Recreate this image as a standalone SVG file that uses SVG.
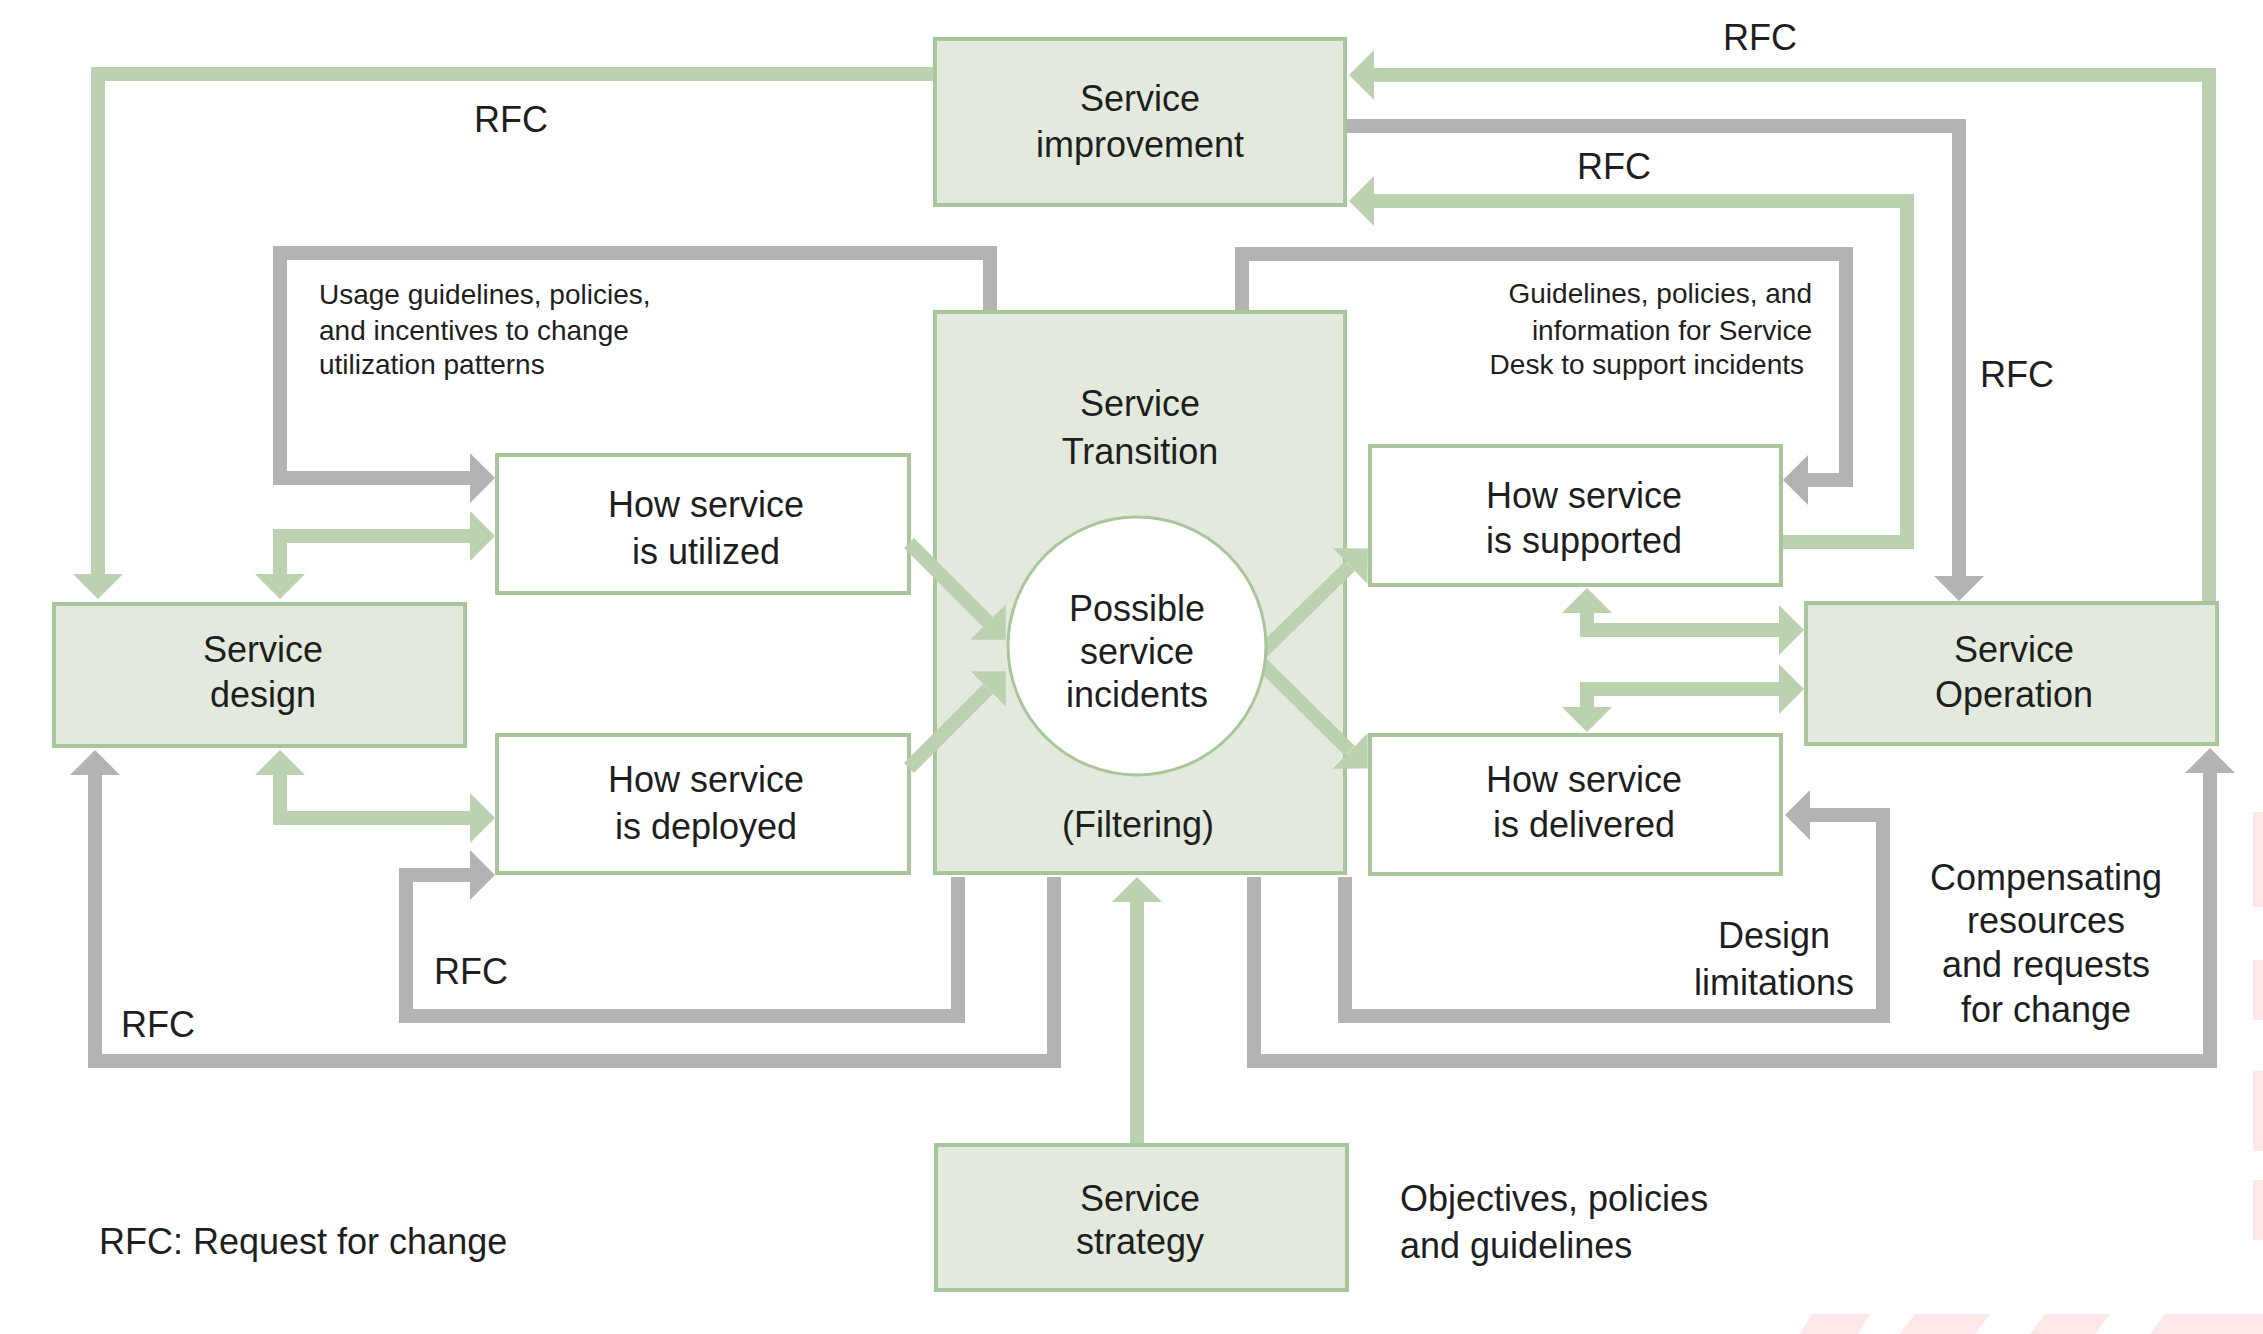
<svg xmlns="http://www.w3.org/2000/svg" width="2263" height="1334" viewBox="0 0 2263 1334">
<defs>
<style>
.box{fill:#e3eadd;stroke:#a9c59b;stroke-width:4}
.wbox{fill:#ffffff;stroke:#a9c59b;stroke-width:4}
.g{fill:none;stroke:#bcd1b0;stroke-width:14;stroke-linejoin:miter;stroke-linecap:butt}
.r{fill:none;stroke:#b3b3b3;stroke-width:14;stroke-linejoin:miter;stroke-linecap:butt}
.wm{fill:#fde7e7}
text{font-family:"Liberation Sans",Arial,sans-serif;fill:#1e1e1e}
.t{font-size:36px;text-anchor:middle}
.s{font-size:28px}
.l{font-size:36px}
</style>
<marker id="ag" viewBox="0 0 25 50" markerWidth="25" markerHeight="50" refX="0" refY="25" orient="auto-start-reverse" markerUnits="userSpaceOnUse"><path d="M0,0 L25,25 L0,50 Z" fill="#bcd1b0"/></marker>
<marker id="ar" viewBox="0 0 25 50" markerWidth="25" markerHeight="50" refX="0" refY="25" orient="auto-start-reverse" markerUnits="userSpaceOnUse"><path d="M0,0 L25,25 L0,50 Z" fill="#b3b3b3"/></marker>
</defs>
<rect width="2263" height="1334" fill="#ffffff"/>
<g id="watermark">
<rect class="wm" x="2253" y="812" width="10" height="95"/>
<rect class="wm" x="2253" y="960" width="10" height="60"/>
<rect class="wm" x="2253" y="1071" width="10" height="80"/>
<rect class="wm" x="2253" y="1180" width="10" height="60"/>
<polygon class="wm" points="1800,1334 1812,1314 1870,1314 1858,1334"/>
<polygon class="wm" points="1900,1334 1915,1314 1990,1314 1975,1334"/>
<polygon class="wm" points="2030,1334 2045,1314 2110,1314 2095,1334"/>
<polygon class="wm" points="2150,1334 2165,1314 2263,1314 2263,1334"/>
</g>

<g id="service-improvement"><rect class="box" x="935" y="39" width="410" height="166"/><text class="t" x="1140" y="111">Service</text><text class="t" x="1140" y="157">improvement</text></g>
<g id="service-transition"><rect class="box" x="935" y="312" width="410" height="561"/><text class="t" x="1140" y="416">Service</text><text class="t" x="1140" y="464">Transition</text><text class="t" x="1138" y="837">(Filtering)</text></g>
<g id="service-design"><rect class="box" x="54" y="604" width="411" height="142"/><text class="t" x="263" y="662">Service</text><text class="t" x="263" y="707">design</text></g>
<g id="service-operation"><rect class="box" x="1806" y="603" width="411" height="141"/><text class="t" x="2014" y="662">Service</text><text class="t" x="2014" y="707">Operation</text></g>
<g id="service-strategy"><rect class="box" x="936" y="1145" width="411" height="145"/><text class="t" x="1140" y="1211">Service</text><text class="t" x="1140" y="1254">strategy</text></g>
<g id="how-utilized"><rect class="wbox" x="497" y="455" width="412" height="138"/><text class="t" x="706" y="517">How service</text><text class="t" x="706" y="564">is utilized</text></g>
<g id="how-deployed"><rect class="wbox" x="497" y="735" width="412" height="138"/><text class="t" x="706" y="792">How service</text><text class="t" x="706" y="839">is deployed</text></g>
<g id="how-supported"><rect class="wbox" x="1370" y="446" width="411" height="139"/><text class="t" x="1584" y="508">How service</text><text class="t" x="1584" y="553">is supported</text></g>
<g id="how-delivered"><rect class="wbox" x="1370" y="735" width="411" height="139"/><text class="t" x="1584" y="792">How service</text><text class="t" x="1584" y="837">is delivered</text></g>

<g id="connectors">
<polyline class="g" points="933,74 98,74 98,574" marker-end="url(#ag)"/>
<polyline class="g" points="2209,601 2209,75 1374,75" marker-end="url(#ag)"/>
<polyline class="g" points="1783,542 1907,542 1907,201 1374,201" marker-end="url(#ag)"/>
<polyline class="g" points="280,574 280,536 470,536" marker-start="url(#ag)" marker-end="url(#ag)"/>
<polyline class="g" points="280,775 280,818 470,818" marker-start="url(#ag)" marker-end="url(#ag)"/>
<polyline class="g" points="1587,613 1587,630 1779,630" marker-start="url(#ag)" marker-end="url(#ag)"/>
<polyline class="g" points="1587,707 1587,689 1779,689" marker-start="url(#ag)" marker-end="url(#ag)"/>
<polyline class="g" points="1137,1143 1137,902" marker-end="url(#ag)"/>
<polyline class="g" points="909,543 988,622" marker-end="url(#ag)"/>
<polyline class="g" points="909,768 988,689" marker-end="url(#ag)"/>
<polyline class="g" points="1262,652 1350,566" marker-end="url(#ag)"/>
<polyline class="g" points="1262,664 1350,751" marker-end="url(#ag)"/>
<polyline class="r" points="990,310 990,253 280,253 280,478 470,478" marker-end="url(#ar)"/>
<polyline class="r" points="1242,310 1242,254 1846,254 1846,480 1808,480" marker-end="url(#ar)"/>
<polyline class="r" points="1347,126 1959,126 1959,576" marker-end="url(#ar)"/>
<polyline class="r" points="958,877 958,1016 406,1016 406,875 470,875" marker-end="url(#ar)"/>
<polyline class="r" points="1054,877 1054,1061 95,1061 95,775" marker-end="url(#ar)"/>
<polyline class="r" points="1345,877 1345,1016 1883,1016 1883,815 1810,815" marker-end="url(#ar)"/>
<polyline class="r" points="1254,877 1254,1061 2210,1061 2210,773" marker-end="url(#ar)"/>
</g>

<g id="possible-incidents"><circle cx="1137" cy="646" r="129" fill="#ffffff" stroke="#a9c59b" stroke-width="3"/><text class="t" x="1137" y="621">Possible</text><text class="t" x="1137" y="664">service</text><text class="t" x="1137" y="707">incidents</text></g>

<g id="labels">
<text class="t" x="511" y="132">RFC</text>
<text class="t" x="1760" y="50">RFC</text>
<text class="t" x="1614" y="179">RFC</text>
<text class="t" x="2017" y="387">RFC</text>
<text class="t" x="471" y="984">RFC</text>
<text class="t" x="158" y="1037">RFC</text>
<text class="s" x="319" y="304">Usage guidelines, policies,</text>
<text class="s" x="319" y="340">and incentives to change</text>
<text class="s" x="319" y="374">utilization patterns</text>
<text class="s" x="1812" y="303" text-anchor="end">Guidelines, policies, and</text>
<text class="s" x="1812" y="340" text-anchor="end">information for Service</text>
<text class="s" x="1804" y="374" text-anchor="end">Desk to support incidents</text>
<text class="t" x="1774" y="948">Design</text>
<text class="t" x="1774" y="995">limitations</text>
<text class="t" x="2046" y="890">Compensating</text>
<text class="t" x="2046" y="933">resources</text>
<text class="t" x="2046" y="977">and requests</text>
<text class="t" x="2046" y="1022">for change</text>
<text class="l" x="1400" y="1211">Objectives, policies</text>
<text class="l" x="1400" y="1258">and guidelines</text>
<text class="l" x="99" y="1254">RFC: Request for change</text>
</g>
</svg>
